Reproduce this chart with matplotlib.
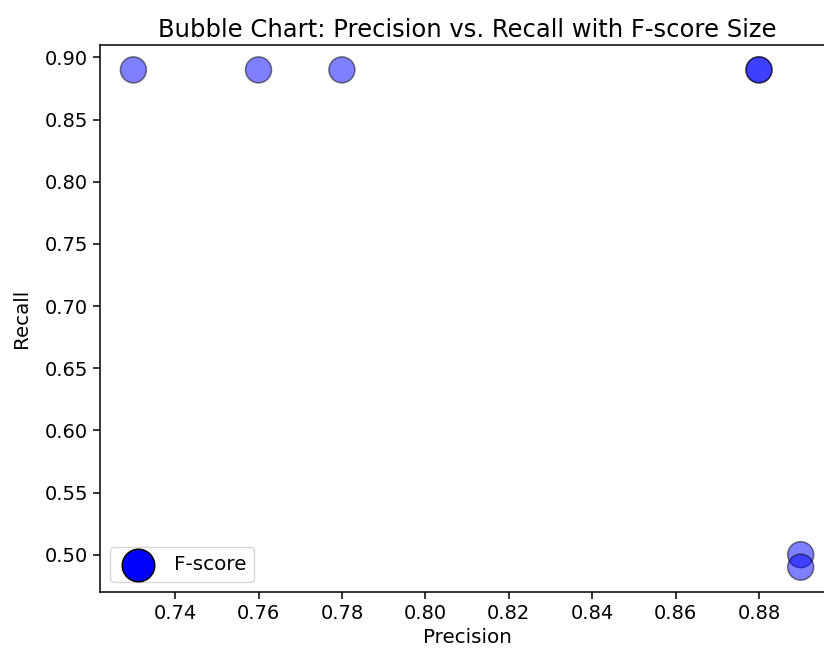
import numpy as np
import matplotlib.pyplot as plt

# values
precision = [0.73, 0.76, 0.78, 0.88, 0.88, 0.89, 0.89]
recall = [0.89, 0.89, 0.89, 0.89, 0.89, 0.50, 0.49]
f_score = [1.0, 1.0, 1.0, 1.0, 1.0, 1.0, 1.0]

fig = plt.figure(figsize=(8.24, 6.54), dpi=100)
# original was cropped on the right, so the axes runs past the figure edge
ax = fig.add_axes([0.1214, 0.0948, 0.8908, 0.8364])

sizes = np.array(f_score) * 350
ax.scatter(precision, recall, s=sizes, color="blue", alpha=0.5,
           edgecolors="black", linewidths=1.1, label="F-score")

ax.set_xlabel("Precision", fontsize=14.3)
ax.set_ylabel("Recall", fontsize=14.3, labelpad=10)
ax.set_title("Bubble Chart: Precision vs. Recall with F-score Size", fontsize=17.5)
ax.tick_params(labelsize=14, width=1.1, length=5)
for sp in ax.spines.values():
    sp.set_linewidth(1.1)

leg = ax.legend(loc="lower left", fontsize=14.3, markerscale=1.25)
for h in leg.legend_handles:
    h.set_alpha(1)

fig.savefig("out.png", dpi=100)
